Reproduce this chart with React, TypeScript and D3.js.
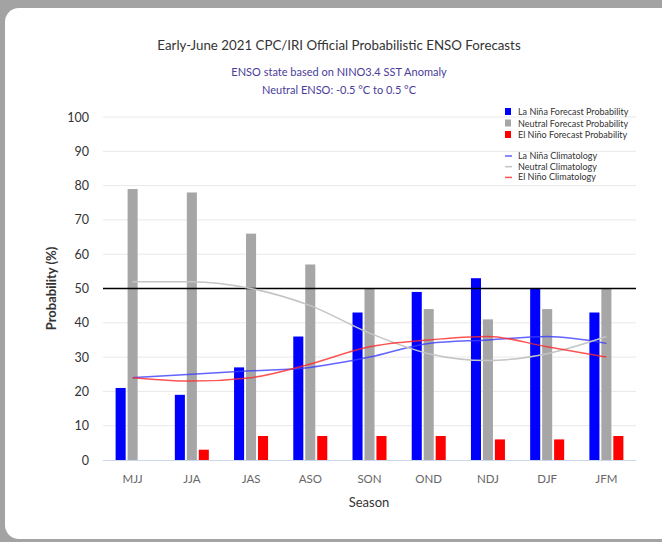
import React from 'react';
import * as d3 from 'd3';

const seasons = ['MJJ', 'JJA', 'JAS', 'ASO', 'SON', 'OND', 'NDJ', 'DJF', 'JFM'];
const laNinaProb = [21, 19, 27, 36, 43, 49, 53, 50, 43];
const neutralProb = [79, 78, 66, 57, 50, 44, 41, 44, 50];
const elNinoProb = [0, 3, 7, 7, 7, 7, 6, 6, 7];
const laNinaClim = [24, 25, 26, 27, 30, 34, 35, 36, 34];
const neutralClim = [52, 52, 50, 45, 37, 31, 29, 31, 36];
const elNinoClim = [24, 23, 24, 28, 33, 35, 36, 33, 30];
const yTicks = [0, 10, 20, 30, 40, 50, 60, 70, 80, 90, 100];

const barSeries = [
  { key: 'lanina', name: 'La Niña Forecast Probability', color: '#0000ff', values: laNinaProb },
  { key: 'neutral', name: 'Neutral Forecast Probability', color: '#a6a6a6', values: neutralProb },
  { key: 'elnino', name: 'El Niño Forecast Probability', color: '#ff0000', values: elNinoProb },
];
const climSeries = [
  { key: 'lanina', name: 'La Niña Climatology', color: 'rgba(60,60,255,0.8)', values: laNinaClim },
  { key: 'neutral', name: 'Neutral Climatology', color: '#c4c4c4', values: neutralClim },
  { key: 'elnino', name: 'El Niño Climatology', color: 'rgba(255,40,40,0.8)', values: elNinoClim },
];

const font = 'Lato, "Open Sans", sans-serif';

export default function App() {
  const W = 662;
  const H = 542;
  const left = 103;
  const right = 636;
  const top = 117;
  const bottom = 460;

  const x = d3.scaleBand<string>().domain(seasons).range([left, right]);
  const inner = d3
    .scaleBand<string>()
    .domain(barSeries.map((s) => s.key))
    .range([-17, 17])
    .paddingInner(0.16);
  const y = d3.scaleLinear().domain([0, 100]).range([bottom, top]);
  const cx = (s: string) => (x(s) as number) + x.bandwidth() / 2;

  const line = d3
    .line<number>()
    .x((_, i) => cx(seasons[i]))
    .y((d) => y(d))
    .curve(d3.curveMonotoneX);

  return (
    <svg
      width={W}
      height={H}
      style={{ position: 'absolute', left: 0, top: 0, display: 'block' }}
      fontFamily={font}
    >
      <rect x={0} y={0} width={W} height={H} fill="#a3a3a3" />
      <rect x={5} y={8} width={W + 20} height={531} rx={14} fill="#ffffff" />

      <text x={339} y={50} textAnchor="middle" fontSize={13.3} fill="#333333">
        Early-June 2021 CPC/IRI Official Probabilistic ENSO Forecasts
      </text>
      <text x={339} y={76} textAnchor="middle" fontSize={11} fill="#4a3c9a">
        ENSO state based on NINO3.4 SST Anomaly
      </text>
      <text x={339} y={94} textAnchor="middle" fontSize={11} fill="#4a3c9a">
        Neutral ENSO: -0.5 °C to 0.5 °C
      </text>

      {yTicks.map((t) => (
        <g key={t}>
          {t > 0 && t !== 50 && (
            <line x1={left} x2={right} y1={y(t)} y2={y(t)} stroke="#e8e8e8" strokeWidth={1} />
          )}
          <text x={89} y={y(t) + 4.5} textAnchor="end" fontSize={12.5} fill="#333333">
            {t}
          </text>
        </g>
      ))}
      <line x1={left} x2={right} y1={bottom + 0.5} y2={bottom + 0.5} stroke="#ccd6eb" strokeWidth={1} />

      {barSeries.map((s) =>
        s.values.map((v, i) => (
          <rect
            key={s.key + i}
            x={cx(seasons[i]) + (inner(s.key) as number)}
            y={y(v)}
            width={inner.bandwidth()}
            height={bottom - y(v)}
            fill={s.color}
          />
        ))
      )}

      <line x1={left} x2={right} y1={y(50)} y2={y(50)} stroke="#000000" strokeWidth={1.5} />

      {climSeries.map((s) => (
        <path key={s.key} d={line(s.values) || ''} fill="none" stroke={s.color} strokeWidth={1.5} />
      ))}

      {seasons.map((s) => (
        <text key={s} x={cx(s)} y={483} textAnchor="middle" fontSize={11.5} fill="#666666">
          {s}
        </text>
      ))}
      <text x={369} y={507} textAnchor="middle" fontSize={13} fill="#333333">
        Season
      </text>
      <text
        transform={`translate(56,${(top + bottom) / 2}) rotate(-90)`}
        textAnchor="middle"
        fontSize={13}
        fontWeight="bold"
        fill="#333333"
      >
        Probability (%)
      </text>

      <g fontSize={9} fill="#333333">
        {barSeries.map((s, i) => (
          <g key={s.key} transform={`translate(505,${108 + i * 11.5})`}>
            <rect x={0} y={0} width={6} height={7} fill={s.color} />
            <text x={13} y={7}>{s.name}</text>
          </g>
        ))}
        {climSeries.map((s, i) => (
          <g key={s.key} transform={`translate(505,${156 + i * 10.7})`}>
            <line x1={0} x2={7} y1={0} y2={0} stroke={s.color} strokeWidth={1.5} />
            <text x={13} y={3}>{s.name}</text>
          </g>
        ))}
      </g>
    </svg>
  );
}
